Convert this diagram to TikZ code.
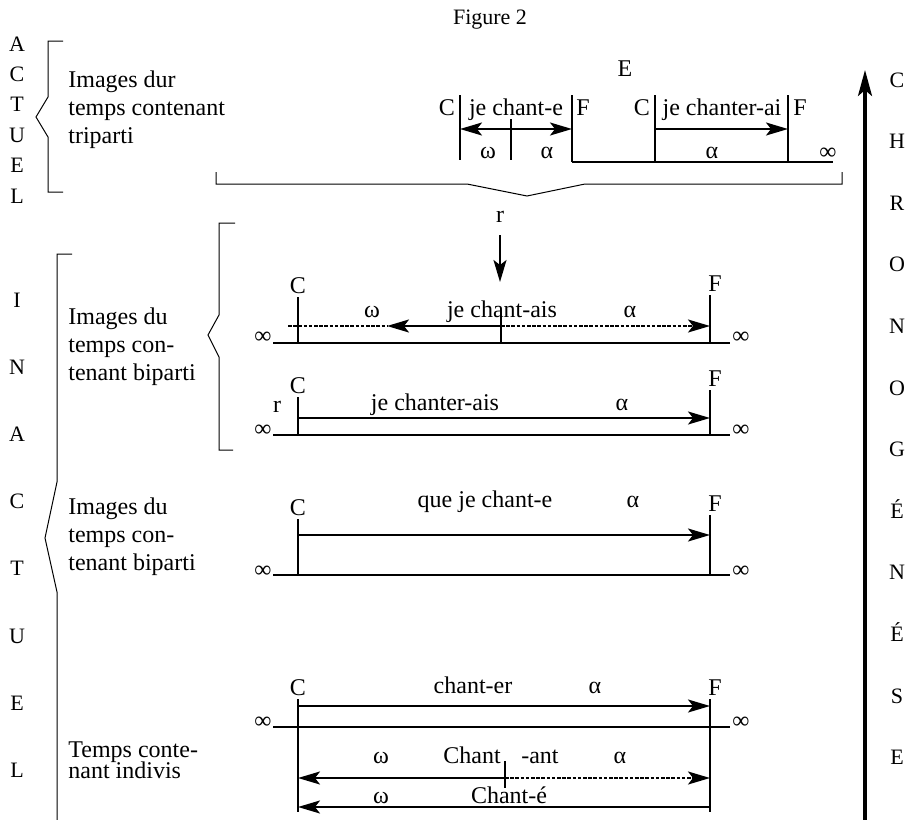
\documentclass[tikz,border=0pt]{standalone}
\usepackage{fontspec}
\setmainfont{Liberation Serif}
\usetikzlibrary{arrows.meta,positioning}

\begin{document}
\begin{tikzpicture}[
    x=0.5pt, y=-0.5pt,
    >={Stealth[length=11pt,width=6.5pt,inset=2.5pt]},
    lbl/.style={font=\fontsize{12}{14}\selectfont, inner sep=0pt, anchor=base},
    col/.style={font=\fontsize{11}{13}\selectfont, inner sep=0pt, anchor=base},
    bloc/.style={font=\fontsize{12}{14}\selectfont, inner sep=0pt, align=left, anchor=north west},
    axe/.style={line width=1.1pt},
    borne/.style={line width=0.9pt},
    fl/.style={->, line width=1pt},
    tiret/.style={dash pattern=on 1.8pt off 0.8pt},
    accol/.style={line width=0.5pt}
]
\useasboundingbox (0,0) rectangle (912,820);

% Titre
\node[lbl, font=\fontsize{11}{13}\selectfont] (titre) at (490,24) {Figure 2};

% Colonnes de lettres
\foreach \l [count=\i from 0] in {A,C,T,U,E,L}
  \node[col] (act\i) at (17,{51+30.4*\i}) {\l};
\foreach \l [count=\i from 0] in {I,N,A,C,T,U,E,L}
  \node[col] (inact\i) at (17,{307+67.2*\i}) {\l};
\foreach \l [count=\i from 0] in {C,H,R,O,N,O,G,É,N,É,S,E}
  \node[col] (chrono\i) at (897,{87+61.6*\i}) {\l};

% Fleche de la chronogenese
\coordinate (chrB) at (865,820);
\coordinate (chrH) at (865,70);
\draw[line width=1.6pt, -{Stealth[length=13pt,width=7pt,inset=3pt]}] (chrB) -- (chrH);

% Accolades
\draw[accol] (63,41) -- (48,41) -- (48,97) -- (36,117) -- (48,137) -- (48,192) -- (63,192);
\draw[accol] (72,254) -- (57,254) -- (57,482) -- (45,538) -- (57,592) -- (57,820);
\draw[accol] (235,223) -- (219,223) -- (219,315) -- (208,335) -- (219,357) -- (219,450) -- (233,450);
\draw[accol] (216,172) -- (216,184) -- (467,184) -- (527,196) -- (585,184) -- (842,184) -- (842,172);

% Textes de gauche
\node[bloc] (txtA) at (68,70) {Images dur\\temps contenant\\triparti};
\node[bloc] (txtB) at (68,307) {Images du\\temps con-\\tenant biparti};
\node[bloc] (txtC) at (68,497) {Images du\\temps con-\\tenant biparti};
\node[bloc, font={\fontsize{12}{10.5}\selectfont\lineskiplimit -5pt}] (txtD) at (68,741) {Temps conte-\\nant indivis};

% Actuel : je chant-e / je chanter-ai
\node[lbl] (E) at (625,76) {E};
\node[lbl] (cA) at (447,115) {C};
\node[lbl] (chante) at (516,115) {je chant-e};
\node[lbl] (fA) at (583,115) {F};
\node[lbl] (cB) at (642,115) {C};
\node[lbl] (chanterai) at (722,115) {je chanter-ai};
\node[lbl] (fB) at (800,115) {F};
\node[lbl] (omA) at (488,158) {ω};
\node[lbl] (alA) at (547,158) {α};
\node[lbl] (alB) at (712,158) {α};
\node[lbl] (infA) at (828,159) {∞};
\coordinate (cAh) at (460,95);  \coordinate (cAb) at (460,160);
\coordinate (mAh) at (511,119); \coordinate (mAb) at (511,160);
\coordinate (fAh) at (572,95);  \coordinate (fAb) at (572,162);
\coordinate (cBh) at (655,95);  \coordinate (cBb) at (655,162);
\coordinate (fBh) at (788,95);  \coordinate (fBb) at (788,162);
\coordinate (finA) at (833,162);
\draw[borne] (cAh) -- (cAb) (mAh) -- (mAb) (fAh) -- (fAb) (cBh) -- (cBb) (fBh) -- (fBb);
\draw[axe] (fAb) -- (finA);
\coordinate (aAg) at (460,129); \coordinate (aAd) at (572,129);
\coordinate (aBg) at (655,129); \coordinate (aBd) at (788,129);
\draw[fl, <->] (aAg) -- (aAd);
\draw[fl] (aBg) -- (aBd);

% Renvoi r
\node[lbl] (r) at (500,222) {r};
\coordinate (rPointe) at (500,282);
\draw[fl, shorten <=6.5pt] (r) -- (rPointe);

% Inactuel : je chant-ais
\node[lbl] (cC) at (298,293) {C};
\node[lbl] (fC) at (715,291) {F};
\node[lbl] (chantais) at (502,317) {je chant-ais};
\node[lbl] (omC) at (372,317) {ω};
\node[lbl] (alC) at (630,317) {α};
\node[lbl] (infCg) at (263,343) {∞};
\node[lbl] (infCd) at (741,343) {∞};
\coordinate (cCh) at (298,297); \coordinate (cCb) at (298,343);
\coordinate (fCh) at (710,295); \coordinate (fCb) at (710,343);
\coordinate (mCh) at (501,310); \coordinate (mCb) at (501,343);
\coordinate (axCg) at (273,343); \coordinate (axCd) at (730,343);
\draw[borne] (cCh) -- (cCb) (fCh) -- (fCb) (mCh) -- (mCb);
\draw[axe] (axCg) -- (axCd);
\coordinate (aCq) at (288,326); \coordinate (aCg) at (387,326);
\coordinate (aCm) at (501,326); \coordinate (aCd) at (710,326);
\draw[line width=1pt, tiret] (aCq) -- (aCg);
\draw[fl] (aCm) -- (aCg);
\draw[fl, tiret] (aCm) -- (aCd);

% Inactuel : je chanter-ais
\node[lbl] (cD) at (298,393) {C};
\node[lbl] (fD) at (715,386) {F};
\node[lbl] (rD) at (277,412) {r};
\node[lbl] (chanterais) at (435,410) {je chanter-ais};
\node[lbl] (alD) at (622,410) {α};
\node[lbl] (infDg) at (263,436) {∞};
\node[lbl] (infDd) at (741,436) {∞};
\coordinate (cDh) at (298,397); \coordinate (cDb) at (298,435);
\coordinate (fDh) at (710,390); \coordinate (fDb) at (710,435);
\coordinate (axDg) at (273,435); \coordinate (axDd) at (730,435);
\draw[borne] (cDh) -- (cDb) (fDh) -- (fDb);
\draw[axe] (axDg) -- (axDd);
\coordinate (aDg) at (298,418); \coordinate (aDd) at (710,418);
\draw[fl] (aDg) -- (aDd);

% Inactuel : que je chant-e
\node[lbl] (cE) at (298,515) {C};
\node[lbl] (fE) at (715,511) {F};
\node[lbl] (quechante) at (485,507) {que je chant-e};
\node[lbl] (alE) at (633,507) {α};
\node[lbl] (infEg) at (263,577) {∞};
\node[lbl] (infEd) at (741,577) {∞};
\coordinate (cEh) at (298,519); \coordinate (cEb) at (298,575);
\coordinate (fEh) at (710,515); \coordinate (fEb) at (710,575);
\coordinate (axEg) at (273,575); \coordinate (axEd) at (730,575);
\draw[borne] (cEh) -- (cEb) (fEh) -- (fEb);
\draw[axe] (axEg) -- (axEd);
\coordinate (aEg) at (298,535); \coordinate (aEd) at (710,535);
\draw[fl] (aEg) -- (aEd);

% Temps contenant indivis : chant-er, chant-ant, chant-e
\node[lbl] (cF) at (298,695) {C};
\node[lbl] (fF) at (715,695) {F};
\node[lbl] (chanter) at (473,693) {chant-er};
\node[lbl] (alF) at (595,693) {α};
\node[lbl] (infFg) at (263,728) {∞};
\node[lbl] (infFd) at (741,728) {∞};
\coordinate (cFh) at (298,699); \coordinate (cFb) at (298,812);
\coordinate (fFh) at (710,699); \coordinate (fFb) at (710,812);
\coordinate (axFg) at (273,727); \coordinate (axFd) at (730,727);
\draw[borne] (cFh) -- (cFb) (fFh) -- (fFb);
\draw[axe] (axFg) -- (axFd);
\coordinate (aFg) at (298,706); \coordinate (aFd) at (710,706);
\draw[fl] (aFg) -- (aFd);
\node[lbl] (omG) at (381,763) {ω};
\node[lbl] (chant) at (472,763) {Chant};
\node[lbl] (ant) at (540,763) {-ant};
\node[lbl] (alG) at (620,763) {α};
\coordinate (mGh) at (505,761); \coordinate (mGb) at (505,788);
\draw[borne] (mGh) -- (mGb);
\coordinate (aGg) at (298,778); \coordinate (aGm) at (505,778); \coordinate (aGd) at (710,778);
\draw[fl] (aGm) -- (aGg);
\draw[fl, tiret] (aGm) -- (aGd);
\node[lbl] (omH) at (381,803) {ω};
\node[lbl] (chantee) at (509,803) {Chant-é};
\coordinate (aHg) at (298,807); \coordinate (aHd) at (710,807);
\draw[fl] (aHd) -- (aHg);
\end{tikzpicture}
\end{document}
